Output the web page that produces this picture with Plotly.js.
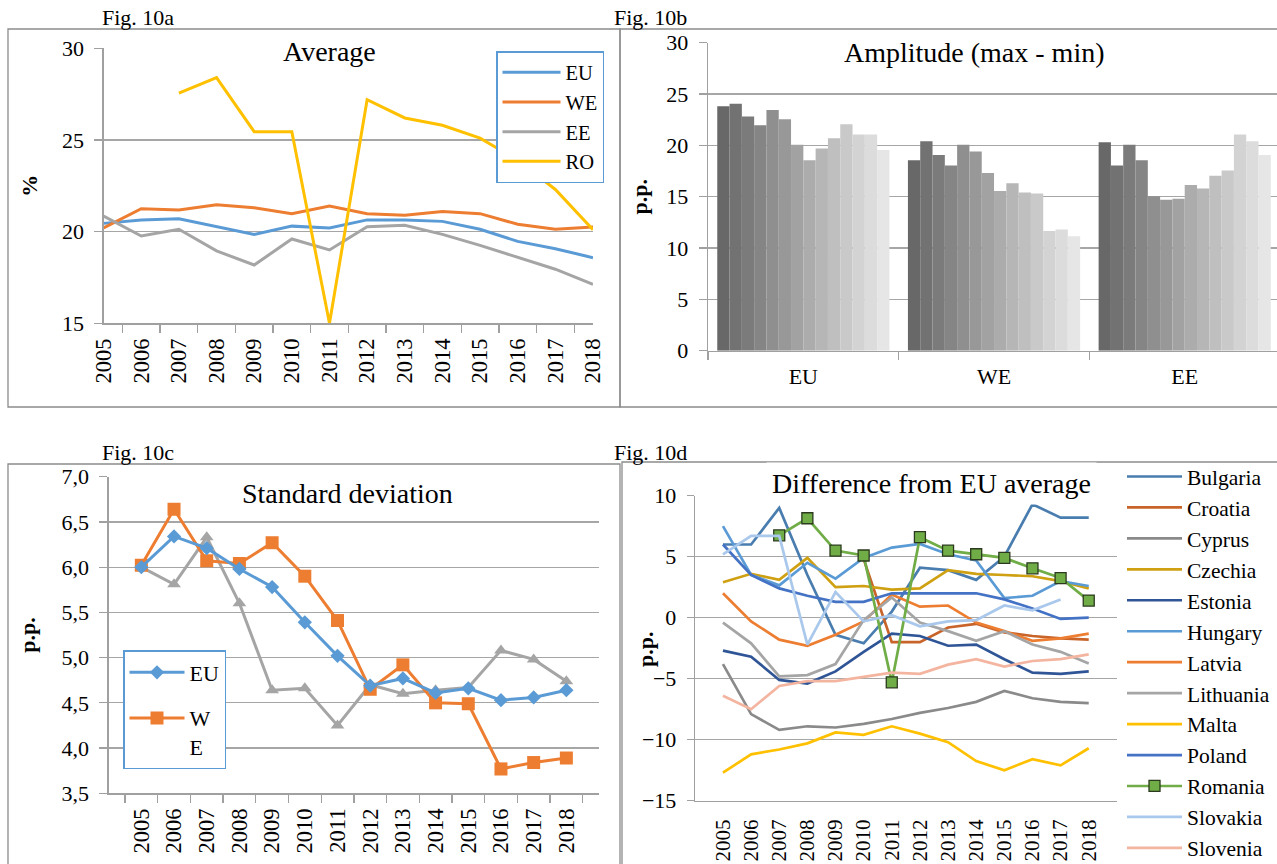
<!DOCTYPE html>
<html><head><meta charset="utf-8">
<script src="https://cdn.plot.ly/plotly-3.0.1.min.js"></script>
<style>html,body{margin:0;padding:0;background:#fff;overflow:hidden}#chart{width:1277px;height:864px}</style>
</head><body><div id="chart"></div>
<script>
// ---------- DATA ----------
const years = ['2005','2006','2007','2008','2009','2010','2011','2012','2013','2014','2015','2016','2017','2018'];

// Fig 10a - Average (%)
const avgEU = [20.45, 20.64, 20.7, 20.27, 19.84, 20.3, 20.2, 20.64, 20.64, 20.56, 20.13, 19.47, 19.07, 18.58];
const avgWE = [20.2, 21.25, 21.18, 21.47, 21.3, 20.98, 21.4, 20.98, 20.9, 21.1, 20.98, 20.4, 20.13, 20.25];
const avgEE = [20.85, 19.76, 20.13, 18.95, 18.18, 19.6, 19.0, 20.27, 20.35, 19.85, 19.25, 18.58, 17.95, 17.13];
const avgRO = [null, null, 27.55, 28.4, 25.45, 25.45, 15.0, 27.2, 26.2, 25.8, 25.1, 23.9, 22.3, 20.1];

// Fig 10b - Amplitude (max - min), one value per year in each group
const ampGroups = ['EU', 'WE', 'EE'];
const ampEU = [23.8, 24.05, 22.8, 21.95, 23.45, 22.55, 20.05, 18.55, 19.7, 20.7, 22.05, 21.05, 21.05, 19.55];
const ampWE = [18.55, 20.4, 19.05, 18.05, 20.05, 19.4, 17.3, 15.55, 16.3, 15.4, 15.3, 11.65, 11.8, 11.15];
const ampEE = [20.3, 18.05, 20.05, 18.55, 15.05, 14.7, 14.8, 16.15, 15.8, 17.05, 17.55, 21.05, 20.4, 19.05];

// Fig 10c - Standard deviation (p.p.)
const sdEU = [6.0, 6.34, 6.21, 5.98, 5.78, 5.39, 5.02, 4.69, 4.77, 4.61, 4.66, 4.53, 4.56, 4.64];
const sdWE = [6.02, 6.64, 6.07, 6.04, 6.27, 5.9, 5.41, 4.65, 4.92, 4.5, 4.49, 3.77, 3.84, 3.89];
const sdEE = [6.0, 5.81, 6.33, 5.6, 4.64, 4.66, 4.25, 4.7, 4.6, 4.64, 4.67, 5.08, 4.98, 4.74];

// Fig 10d - Difference from EU average (p.p.)
const countries = ['Bulgaria','Croatia','Cyprus','Czechia','Estonia','Hungary','Latvia','Lithuania','Malta','Poland','Romania','Slovakia','Slovenia'];
const bulgaria  = [6.0, 6.0, 9.0, 3.5, -1.4, -2.1, 0.5, 4.1, 3.9, 3.1, 5.0, 9.3, 8.2, 8.2];
const croatia   = [null, null, null, null, null, 4.8, -2.0, -2.0, -0.8, -0.5, -1.2, -1.5, -1.7, -1.8];
const cyprus    = [-3.8, -7.9, -9.2, -8.9, -9.0, -8.7, -8.3, -7.8, -7.4, -6.9, -6.0, -6.6, -6.9, -7.0];
const czechia   = [2.9, 3.6, 3.1, 4.9, 2.5, 2.6, 2.3, 2.4, 3.9, 3.6, 3.5, 3.4, 3.0, 2.4];
const estonia   = [-2.7, -3.2, -5.1, -5.4, -4.4, -2.8, -1.3, -1.5, -2.3, -2.2, -3.4, -4.5, -4.6, -4.4];
const hungary   = [7.5, 3.5, 2.65, 4.5, 3.2, 4.9, 5.75, 6.05, 5.2, 4.7, 1.6, 1.8, 3.0, 2.6];
const latvia    = [2.0, -0.3, -1.8, -2.3, -1.4, -0.3, 1.9, 0.9, 1.0, -0.4, -1.1, -1.9, -1.7, -1.3];
const lithuania = [-0.4, -2.1, -4.8, -4.7, -3.8, -0.2, 1.65, -0.4, -1.1, -1.9, -1.1, -2.2, -2.8, -3.75];
const malta     = [-12.7, -11.2, -10.8, -10.3, -9.4, -9.6, -8.9, -9.5, -10.2, -11.75, -12.5, -11.6, -12.1, -10.7];
const poland    = [6.0, 3.5, 2.4, 1.8, 1.3, 1.3, 2.0, 2.0, 2.05, 2.0, 1.5, 0.75, -0.1, 0.0];
const romania   = [null, null, 6.75, 8.15, 5.5, 5.1, -5.3, 6.6, 5.5, 5.2, 4.9, 4.05, 3.25, 1.4];
const slovakia  = [5.2, 6.7, 6.7, -2.2, 2.1, -0.3, 0.2, -0.7, -0.3, -0.2, 1.0, 0.6, 1.5, null];
const slovenia  = [-6.4, -7.5, -5.6, -5.2, -5.2, -4.85, -4.5, -4.6, -3.85, -3.4, -4.0, -3.55, -3.4, -3.0];

// ---------- STYLE / LAYOUT ----------
const W = 1277, H = 864;
const fx = p => p / W;
const fy = p => 1 - p / H;
const FF = 'Liberation Serif, Times New Roman, serif';
const fnt = (s, extra) => Object.assign({family:FF, size:s, color:'#000'}, extra || {});
const GRID = '#A6A6A6', AXC = '#A0A0A0', BORDER = '#8C8C8C';
const C_EU = '#5B9BD5', C_WE = '#ED7D31', C_EE = '#A5A5A5', C_RO = '#FFC000';

const traces = [];

// Fig 10a
[[avgEU,'EU',C_EU],[avgWE,'WE',C_WE],[avgEE,'EE',C_EE],[avgRO,'RO',C_RO]].forEach(([y,n,c]) => {
  traces.push({type:'scatter', mode:'lines', x:years, y:y, name:n, xaxis:'x', yaxis:'y',
    line:{color:c, width:3}, legend:'legend', connectgaps:false});
});

// Fig 10b
const ampSeries = [ampEU, ampWE, ampEE];
years.forEach((yr, i) => {
  const g = Math.round(0x68 + (0xE6 - 0x68) * i / (years.length - 1));
  const col = 'rgb(' + g + ',' + g + ',' + g + ')';
  traces.push({type:'bar', x:ampGroups, y:ampSeries.map(s => s[i]), name:yr,
    xaxis:'x2', yaxis:'y2', marker:{color:col, line:{width:0}}, showlegend:false});
});

// Fig 10c
traces.push({type:'scatter', mode:'lines+markers', x:years, y:sdEE, name:'EE', xaxis:'x3', yaxis:'y3',
  line:{color:C_EE, width:3}, marker:{symbol:'triangle-up', size:12, color:C_EE}, showlegend:false});
traces.push({type:'scatter', mode:'lines+markers', x:years, y:sdWE, name:'W<br>E', xaxis:'x3', yaxis:'y3',
  line:{color:C_WE, width:3}, marker:{symbol:'square', size:13, color:C_WE}, legend:'legend2', legendgroup:'b', legendrank:2});
traces.push({type:'scatter', mode:'lines+markers', x:years, y:sdEU, name:'EU', xaxis:'x3', yaxis:'y3',
  line:{color:C_EU, width:3}, marker:{symbol:'diamond', size:11, color:C_EU}, legend:'legend2', legendgroup:'a', legendrank:1});

// Fig 10d
const countrySeries = [bulgaria, croatia, cyprus, czechia, estonia, hungary, latvia, lithuania, malta, poland, romania, slovakia, slovenia];
const countryColors = ['#4A7DAF','#C8642A','#8A8A8A','#CFA012','#2F5597','#5B9BD5','#ED7D31','#A5A5A5','#FFC000','#4472C4','#70AD47','#A9C8EB','#F4B5A0'];
countries.forEach((name, i) => {
  const t = {type:'scatter', mode:'lines', x:years, y:countrySeries[i], name:name,
    xaxis:'x4', yaxis:'y4', line:{color:countryColors[i], width:2.7}, legend:'legend3', connectgaps:false};
  if (name === 'Romania') {
    t.mode = 'lines+markers';
    t.marker = {symbol:'square', size:11, color:'#70AD47', line:{color:'#2B3A1E', width:1.3}};
  }
  traces.push(t);
});

const catX = {type:'category', tickson:'boundaries', ticks:'outside', ticklen:8, tickcolor:AXC, tickwidth:1.3,
  showline:true, linecolor:AXC, linewidth:1.3, showgrid:false, zeroline:false, tickangle:-90,
  tickfont:fnt(22.5), fixedrange:true, ticklabelstandoff:5};
const valY = {ticks:'outside', ticklen:8, tickcolor:AXC, tickwidth:1.3, showline:true, linecolor:AXC, linewidth:1.3,
  showgrid:true, gridcolor:GRID, gridwidth:1.3, zeroline:false, tickfont:fnt(22), fixedrange:true, ticklabelstandoff:6};

const titleAnn = (text, x, y) => ({text:text, x:fx(x), y:fy(y), xref:'paper', yref:'paper', showarrow:false,
  xanchor:'center', yanchor:'middle', bgcolor:'#fff', borderpad:5, font:fnt(28)});
const figAnn = (text, x, y) => ({text:text, x:fx(x), y:fy(y), xref:'paper', yref:'paper', showarrow:false,
  xanchor:'left', yanchor:'middle', font:fnt(22)});
const box = (x0, y0, x1, y1) => ({type:'rect', xref:'paper', yref:'paper', x0:fx(x0), x1:fx(x1), y0:fy(y1), y1:fy(y0),
  line:{color:BORDER, width:1.3}, fillcolor:'rgba(0,0,0,0)', layer:'below'});

const layout = {
  width:W, height:H, margin:{l:0, r:0, t:0, b:0, pad:0, autoexpand:false},
  paper_bgcolor:'#fff', plot_bgcolor:'rgba(0,0,0,0)',
  font:fnt(22),
  separators:',.', hovermode:false,
  barmode:'group', bargap:0.097, bargroupgap:0,
  xaxis: Object.assign({}, catX, {domain:[fx(103.6), fx(593)], anchor:'y', automargin:false}),
  yaxis: Object.assign({}, valY, {domain:[fy(323.3), fy(48.3)], anchor:'x', range:[15, 30], dtick:5, automargin:false,
    title:{text:'<b>%</b>', font:fnt(22), standoff:18}}),
  xaxis2: Object.assign({}, catX, {domain:[fx(708), 1], anchor:'y2', range:[-0.5, 2.484], tickangle:0, automargin:false,
    tickfont:fnt(22), ticklabelstandoff:6}),
  yaxis2: Object.assign({}, valY, {domain:[fy(350.7), fy(42.7)], anchor:'x2', range:[0, 30], dtick:5, automargin:false,
    title:{text:'<b>p.p.</b>', font:fnt(22), standoff:12}}),
  xaxis3: Object.assign({}, catX, {domain:[fx(108.7), fx(599)], anchor:'y3', automargin:false}),
  yaxis3: Object.assign({}, valY, {domain:[fy(793.3), fy(476.7)], anchor:'x3', range:[3.5, 7.0], dtick:0.5, automargin:false,
    tickformat:'.1f', title:{text:'<b>p.p.</b>', font:fnt(22), standoff:19}}),
  xaxis4: Object.assign({}, catX, {domain:[fx(695), fx(1116.7)], anchor:'y4', ticks:'', ticklabelstandoff:9,
    tickfont:fnt(21), automargin:false}),
  yaxis4: Object.assign({}, valY, {domain:[fy(800.7), fy(495.7)], anchor:'x4', range:[-15, 10], dtick:5, ticklen:7, automargin:false}),
  xaxis5: {overlaying:'x4', anchor:'free', position:fy(617.7), range:[0, years.length], tickmode:'linear', tick0:0, dtick:1,
    ticks:'outside', ticklen:6, tickcolor:AXC, tickwidth:1.3, showline:true, linecolor:AXC, linewidth:1.3,
    showticklabels:false, showgrid:false, zeroline:false, fixedrange:true},
  legend: {x:fx(496), y:fy(51), xanchor:'left', yanchor:'top', bordercolor:C_EU, borderwidth:1.5, bgcolor:'#fff',
    font:fnt(20.5), itemwidth:58, tracegroupgap:0},
  legend2: {x:fx(123), y:fy(650), xanchor:'left', yanchor:'top', bordercolor:C_EU, borderwidth:1.5, bgcolor:'#fff',
    font:fnt(22), itemwidth:55, tracegroupgap:14, traceorder:'grouped', valign:'top'},
  legend3: {x:fx(1122), y:fy(456), xanchor:'left', yanchor:'top', borderwidth:0, bgcolor:'rgba(0,0,0,0)',
    font:fnt(21.5), itemwidth:55, tracegroupgap:0},
  annotations: [
    titleAnn('Average', 329, 51),
    titleAnn('Amplitude (max - min)', 974, 52),
    titleAnn('Standard deviation', 347, 493),
    titleAnn('Difference from EU average', 932, 483),
    figAnn('Fig. 10a', 100, 17),
    figAnn('Fig. 10b', 612, 17),
    figAnn('Fig. 10c', 100, 452),
    figAnn('Fig. 10d', 612, 452),
    {text:'<b>p.p.</b>', x:fx(645), y:fy(650), xref:'paper', yref:'paper', showarrow:false, textangle:-90,
      xanchor:'center', yanchor:'middle', font:fnt(22)}
  ],
  shapes: [
    box(8, 29, 620, 407),
    box(620, 29, 1290, 407),
    box(8, 464, 620, 880),
    box(622, 462, 1290, 880)
  ]
};

Plotly.newPlot('chart', traces, layout, {staticPlot:true, displayModeBar:false});
</script></body></html>
